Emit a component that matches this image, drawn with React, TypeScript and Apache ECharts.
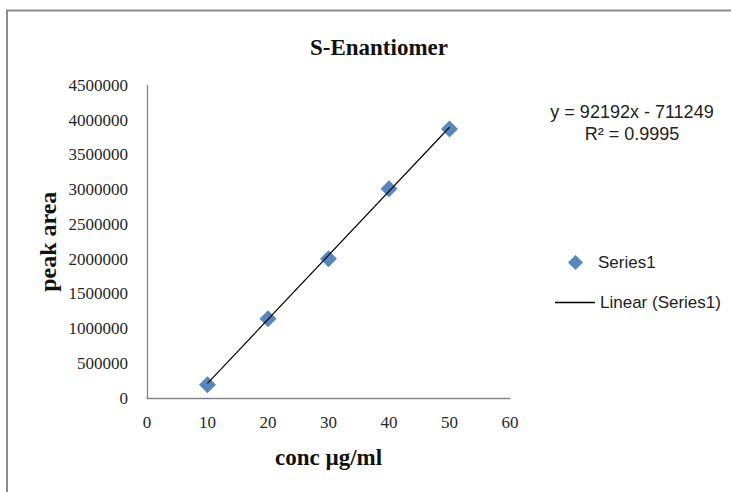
import React, { useEffect, useRef } from "react";
import * as echarts from "echarts";

const concValues = [10, 20, 30, 40, 50];
const peakAreas = [190000, 1140000, 2005000, 3015000, 3875000];
const trendX = [10, 50];
const trendY = [210671, 3898351];
const equationText = "y = 92192x - 711249";
const r2Text = "R² = 0.9995";
const titleText = "S-Enantiomer";
const xAxisTitle = "conc µg/ml";
const yAxisTitle = "peak area";

export default function App() {
  const ref = useRef<HTMLDivElement>(null);
  useEffect(() => {
    if (!ref.current) return;
    const chart = echarts.init(ref.current, null, { renderer: "svg" });
    const serif = "'Liberation Serif', 'Times New Roman', serif";
    const sans = "'Liberation Sans', Arial, sans-serif";
    chart.setOption({
      animation: false,
      backgroundColor: "#ffffff",
      title: {
        text: titleText,
        left: 374,
        top: 31,
        textAlign: "center",
        textStyle: { fontFamily: serif, fontWeight: "bold", fontSize: 23, color: "#111" },
      },
      grid: { left: 147, right: 221, top: 85.5, bottom: 94, containLabel: false },
      xAxis: {
        type: "value",
        min: 0,
        max: 60,
        interval: 10,
        name: xAxisTitle,
        nameLocation: "middle",
        nameGap: 48,
        nameTextStyle: { fontFamily: serif, fontWeight: "bold", fontSize: 23, color: "#111" },
        axisLine: { show: true, onZero: false, lineStyle: { color: "#868686", width: 1.3 } },
        axisTick: { show: false },
        splitLine: { show: false },
        axisLabel: { fontFamily: serif, fontSize: 17, color: "#262626", margin: 16 },
      },
      yAxis: {
        type: "value",
        min: 0,
        max: 4500000,
        interval: 500000,
        name: yAxisTitle,
        nameLocation: "middle",
        nameRotate: 90,
        nameGap: 87,
        nameTextStyle: { fontFamily: serif, fontWeight: "bold", fontSize: 24, color: "#111" },
        axisLine: { show: true, onZero: false, lineStyle: { color: "#868686", width: 1.3 } },
        axisTick: { show: false },
        splitLine: { show: false },
        axisLabel: {
          fontFamily: serif,
          fontSize: 17,
          color: "#262626",
          margin: 19,
          formatter: (v: number) => String(v),
        },
      },
      legend: [
        {
          orient: "vertical",
          left: 563,
          top: 249,
          itemWidth: 15,
          itemHeight: 15,
          textStyle: { fontFamily: sans, fontSize: 17, color: "#222", padding: [0, 0, 0, 10] },
          data: [{ name: "Series1", icon: "diamond" }],
        },
        {
          orient: "vertical",
          left: 550,
          top: 289,
          itemWidth: 40,
          itemHeight: 1.4,
          textStyle: { fontFamily: sans, fontSize: 17, color: "#222" },
          data: [{ name: "Linear (Series1)", icon: "rect", itemStyle: { color: "#000" } }],
        },
      ],
      graphic: [
        {
          type: "rect",
          shape: { x: 7, y: 10.5, width: 800, height: 600 },
          style: { fill: "none", stroke: "#8c8c8c", lineWidth: 2 },
          silent: true,
        },
        {
          type: "text",
          x: 632,
          y: 112,
          style: {
            text: equationText,
            fontFamily: sans,
            fontSize: 18,
            fill: "#222",
            align: "center",
            verticalAlign: "middle",
          },
        },
        {
          type: "text",
          x: 632,
          y: 134,
          style: {
            text: r2Text,
            fontFamily: sans,
            fontSize: 18,
            fill: "#222",
            align: "center",
            verticalAlign: "middle",
          },
        },
      ],
      series: [
        {
          name: "Linear (Series1)",
          type: "line",
          data: trendX.map((x, i) => [x, trendY[i]]),
          symbol: "none",
          lineStyle: { color: "#000", width: 1.2 },
          itemStyle: { color: "#000" },
          z: 3,
        },
        {
          name: "Series1",
          type: "scatter",
          data: concValues.map((x, i) => [x, peakAreas[i]]),
          symbol: "diamond",
          symbolSize: 17,
          itemStyle: { color: "#4F81BD", opacity: 0.95 },
          z: 2,
        },
      ],
    });
    return () => chart.dispose();
  }, []);
  return (
    <div
      ref={ref}
      style={{ position: "fixed", left: 0, top: 0, width: 731, height: 492 }}
    />
  );
}
